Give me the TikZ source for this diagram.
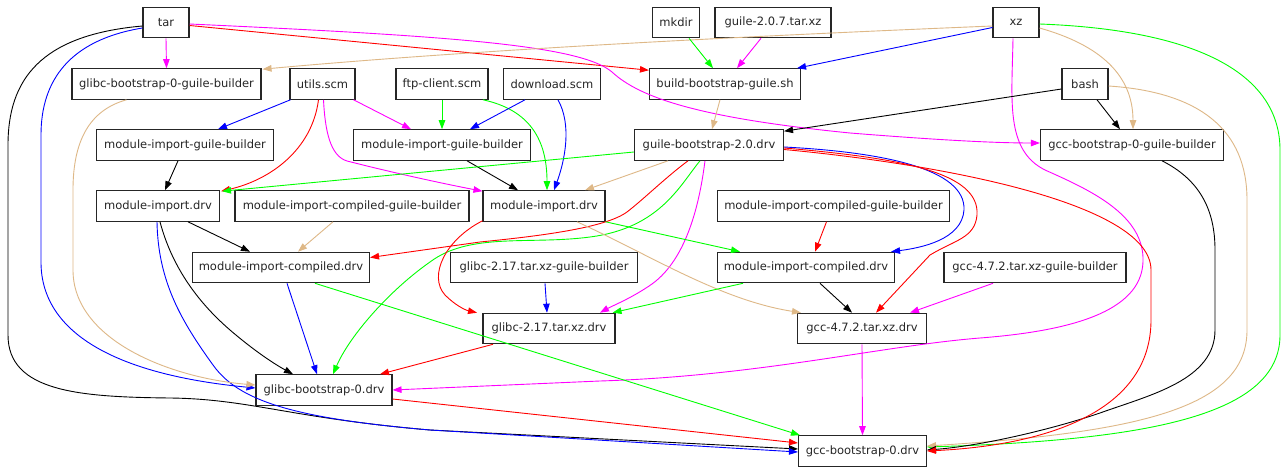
\documentclass[tikz,border=0pt]{standalone}
\usepackage{fontspec}
\setmainfont{DejaVu Sans}
\usetikzlibrary{arrows.meta,calc}
\definecolor{cgreen}{RGB}{0,255,0}
\definecolor{cmag}{RGB}{255,0,255}
\definecolor{cblue}{RGB}{0,0,255}
\definecolor{cred}{RGB}{255,0,0}
\definecolor{ctan}{RGB}{222,184,135}
\begin{document}
\begin{tikzpicture}[x=1pt,y=-1pt,
  box/.style={draw=black!85, line width=1.1pt, minimum height=30.5pt, inner sep=0pt,
              font=\fontsize{11.5}{13}\selectfont, fill=white, text=black!85},
  conn/.style={line width=0.9pt, -{Triangle[length=9pt,width=6.5pt]}},
]
\fill[white] (0,0) rectangle (1285,468);
\useasboundingbox (0,0) rectangle (1285,468);

% row 1
\node[box,minimum width=46pt]  (tar)      at (166,22.5)  {tar};
\node[box,minimum width=46.6pt](mkdir)    at (676,22.5)  {mkdir};
\node[box,minimum width=116pt] (guiletar) at (773,22.5)  {guile-2.0.7.tar.xz};
\node[box,minimum width=46pt]  (xz)       at (1016,22.5) {xz};
% row 2
\node[box,minimum width=189pt] (gbgb)     at (166.5,84)  {glibc-bootstrap-0-guile-builder};
\node[box,minimum width=65pt]  (utils)    at (322.5,84)  {utils.scm};
\node[box,minimum width=92pt]  (ftp)      at (442,84)    {ftp-client.scm};
\node[box,minimum width=97pt]  (download) at (552,84)    {download.scm};
\node[box,minimum width=151pt] (bbgs)     at (725,84)    {build-bootstrap-guile.sh};
\node[box,minimum width=46pt]  (bash)     at (1085,84)   {bash};
% row 3
\node[box,minimum width=177pt] (migb1)    at (185,145)   {module-import-guile-builder};
\node[box,minimum width=177pt] (migb2)    at (442,145)   {module-import-guile-builder};
\node[box,minimum width=149pt] (gb20)     at (709,145)   {guile-bootstrap-2.0.drv};
\node[box,minimum width=183pt] (gccbgb)   at (1132,145)  {gcc-bootstrap-0-guile-builder};
% row 4
\node[box,minimum width=123pt] (mid1)     at (158,206)   {module-import.drv};
\node[box,minimum width=234pt] (micgb1)   at (352,206)   {module-import-compiled-guile-builder};
\node[box,minimum width=122pt] (mid2)     at (544,206)   {module-import.drv};
\node[box,minimum width=232pt] (micgb2)   at (833.5,206) {module-import-compiled-guile-builder};
% row 5
\node[box,minimum width=177pt] (micd1)    at (281,267.5) {module-import-compiled.drv};
\node[box,minimum width=187pt] (glibctgb) at (544,267.5) {glibc-2.17.tar.xz-guile-builder};
\node[box,minimum width=177pt] (micd2)    at (806,267.5) {module-import-compiled.drv};
\node[box,minimum width=182pt] (gcctgb)   at (1035,267.5){gcc-4.7.2.tar.xz-guile-builder};
% row 6
\node[box,minimum width=132pt] (glibctd)  at (549,328.5) {glibc-2.17.tar.xz.drv};
\node[box,minimum width=129pt] (gcctd)    at (862,328.5) {gcc-4.7.2.tar.xz.drv};
% row 7/8
\node[box,minimum width=136pt] (gb0)      at (324,390)   {glibc-bootstrap-0.drv};
\node[box,minimum width=128pt] (gcc0)     at (862.5,451) {gcc-bootstrap-0.drv};

% ---- edges from tar
\draw[conn,cmag] (tar.south) -- (gbgb.north);
\draw[conn,cred] ([yshift=-3pt]tar.east) -- ([yshift=-2pt]bbgs.north west);
\draw[conn,cmag] ([yshift=-1.5pt]tar.east) .. controls (450,36) and (580,45) .. (612,72)
   .. controls (640,98) and (700,118) .. (850,133) .. controls (950,141) and (1000,143) .. ([yshift=2pt]gccbgb.west);
\draw[conn,cblue] ([yshift=-5.5pt]tar.west) .. controls (70,40) and (41,80) .. (41,135) -- (41,262)
   .. controls (41,335) and (120,375) .. ([yshift=2pt]gb0.west);
\draw[conn,black] ([yshift=-3.5pt]tar.west) .. controls (40,35) and (8,80) .. (8,145) -- (8,335)
   .. controls (8,392) and (80,397) .. (170,398) .. controls (250,399) and (290,418) .. (430,430)
   -- ([yshift=2pt]gcc0.west);

% ---- edges from xz
\draw[conn,cblue] ([yshift=-5pt]xz.west) -- ([xshift=-4pt]bbgs.north east);
\draw[conn,ctan] ([yshift=-3.5pt]xz.west) .. controls (700,38) and (450,52) .. ([xshift=1pt,yshift=-1pt]gbgb.north east);
\draw[conn,ctan] ([yshift=-5.5pt]xz.east) .. controls (1100,45) and (1133,75) .. ([xshift=1pt]gccbgb.north);
\draw[conn,cgreen] ([yshift=-1.5pt]xz.east) .. controls (1200,30) and (1280,75) .. (1280,150) -- (1280,335)
   .. controls (1280,415) and (1150,440) .. ([yshift=4pt]gcc0.east);
\draw[conn,cmag] ([xshift=-3pt]xz.south) .. controls (1012,100) and (1005,150) .. (1045,170)
   .. controls (1090,190) and (1145,215) .. (1143,262) .. controls (1141,312) and (1070,331) .. (980,338)
   .. controls (880,346) and (760,376) .. (600,381) -- (gb0.east);

% ---- top middle
\draw[conn,cgreen] ([xshift=13pt]mkdir.south) -- ([xshift=-12pt]bbgs.north);
\draw[conn,cmag] ([xshift=-12pt]guiletar.south) -- ([xshift=12pt]bbgs.north);
\draw[conn,ctan] ([xshift=-5pt]bbgs.south) -- ([xshift=3pt]gb20.north);
\draw[conn,black] ([yshift=-5pt]bash.west) -- ([yshift=-2pt]gb20.north east);
\draw[conn,black] ([xshift=12pt]bash.south) -- ([xshift=-12pt]gccbgb.north);
\draw[conn,ctan] ([yshift=-2pt]bash.east) .. controls (1200,92) and (1247,130) .. (1247,200) -- (1247,330)
   .. controls (1247,405) and (1150,432) .. ([yshift=5pt]gcc0.east);
\draw[conn,black] ([xshift=30pt]gccbgb.south) .. controls (1200,180) and (1215,210) .. (1215,250) -- (1215,330)
   .. controls (1215,380) and (1150,395) .. (1100,413) .. controls (1050,430) and (980,446) .. ([yshift=1pt]gcc0.east);

% ---- utils / ftp / download
\draw[conn,cblue] ([xshift=1pt]utils.south west) -- ([xshift=33pt]migb1.north);
\draw[conn,cred] ([xshift=-4pt]utils.south) .. controls (312,150) and (270,180) .. ([xshift=1pt,yshift=-1pt]mid1.north east);
\draw[conn,cmag] ([xshift=-2pt]utils.south east) -- ([xshift=-31pt]migb2.north);
\draw[conn,cmag] ([xshift=1pt]utils.south) .. controls (325,130) and (330,156) .. (347,161)
   .. controls (390,172) and (440,183) .. ([yshift=-1pt]mid2.north west);
\draw[conn,cgreen] (ftp.south) -- (migb2.north);
\draw[conn,cgreen] ([xshift=41pt]ftp.south) .. controls (530,110) and (547,140) .. ([xshift=3pt]mid2.north);
\draw[conn,cblue] ([xshift=-27pt]download.south) -- ([xshift=28pt]migb2.north);
\draw[conn,cblue] ([xshift=6pt]download.south) .. controls (572,125) and (565,160) .. ([xshift=10pt]mid2.north);
\draw[conn,black] ([xshift=-7pt]migb1.south) -- ([xshift=7pt]mid1.north);
\draw[conn,black] ([xshift=25pt]migb2.south) -- ([xshift=-26pt]mid2.north);

% ---- from guile-bootstrap-2.0.drv
\draw[conn,cgreen] ([yshift=-7pt]gb20.west) -- ([xshift=2pt,yshift=-1pt]mid1.north east);
\draw[conn,ctan] ([xshift=-41pt]gb20.south) -- ([xshift=41pt]mid2.north);
\draw[conn,cred] ([xshift=-21pt]gb20.south) .. controls (665,178) and (645,198) .. (627,212)
   .. controls (605,228) and (540,236) .. (480,242) -- ([yshift=10pt]micd1.east);
\draw[conn,cgreen] ([xshift=-9pt]gb20.south) .. controls (680,185) and (660,228) .. (590,237)
   .. controls (530,245) and (470,232) .. (430,262) .. controls (390,290) and (350,335) .. ([xshift=9pt]gb0.north);
\draw[conn,cmag] ([xshift=-4pt]gb20.south) .. controls (700,200) and (688,258) .. (652,284)
   .. controls (632,298) and (612,306) .. ([xshift=51pt]glibctd.north);
\draw[conn,cblue] ([yshift=-2pt]gb20.east) .. controls (880,152) and (966,168) .. (964,210)
   .. controls (962,240) and (920,248) .. ([xshift=-4pt]micd2.north east);
\draw[conn,cred] ([yshift=-3pt]gb20.east) .. controls (900,158) and (980,172) .. (977,215)
   .. controls (975,238) and (955,240) .. (930,255) -- ([xshift=14pt]gcctd.north);
\draw[conn,cred] ([yshift=-4.5pt]gb20.east) .. controls (950,165) and (1151,205) .. (1151,270) -- (1151,320)
   .. controls (1151,410) and (1050,445) .. (gcc0.east);

% ---- middle rows
\draw[conn,cred] ([yshift=1pt]mid2.south west) .. controls (445,240) and (428,276) .. (445,295)
   .. controls (455,305) and (465,310) .. ([xshift=-72pt]glibctd.north);
\draw[conn,cgreen] (mid2.south east) -- ([xshift=-66pt]micd2.north);
\draw[conn,ctan] ([xshift=33pt]mid2.south) .. controls (650,255) and (720,300) .. ([xshift=-61pt]gcctd.north);
\draw[conn,ctan] ([xshift=-19pt]micgb1.south) -- ([xshift=17pt]micd1.north);
\draw[conn,black] ([xshift=30pt]mid1.south) -- ([xshift=-31pt]micd1.north);
\draw[conn,black] ([xshift=2pt]mid1.south) .. controls (168,252) and (186,292) .. (230,330)
   .. controls (258,354) and (278,366) .. ([xshift=-31pt]gb0.north);
\draw[conn,cblue] ([xshift=-1pt]mid1.south) .. controls (158,282) and (182,322) .. (213,365)
   .. controls (238,400) and (290,418) .. (430,430) -- ([yshift=-1pt]gcc0.west);
\draw[conn,cred] ([xshift=-7pt]micgb2.south) -- ([xshift=9pt]micd2.north);
\draw[conn,cblue] ([xshift=6pt]micd1.south) -- ([xshift=-7pt]gb0.north);
\draw[conn,cgreen] ([xshift=34pt]micd1.south) -- ([xshift=2pt]gcc0.north west);
\draw[conn,cblue] ([xshift=1pt]glibctgb.south) -- ([xshift=-2pt]glibctd.north);
\draw[conn,cgreen] ([xshift=-63pt]micd2.south) -- ([xshift=-3pt]glibctd.north east);
\draw[conn,black] ([xshift=14pt]micd2.south) -- ([xshift=-10pt]gcctd.north);
\draw[conn,cmag] ([xshift=-42pt]gcctgb.south) -- ([xshift=48pt]gcctd.north);

% ---- bottom
\draw[conn,cred] ([xshift=-56pt]glibctd.south) -- ([xshift=56pt]gb0.north);
\draw[conn,cred] ([yshift=-9pt]gb0.east) -- ([yshift=8pt]gcc0.west);
\draw[conn,cmag] (gcctd.south) -- (gcc0.north);
\draw[conn,ctan] ([xshift=-40pt]gbgb.south) .. controls (90,110) and (73,140) .. (73,190) -- (73,270)
   .. controls (73,340) and (170,378) .. ([yshift=5pt]gb0.west);
\end{tikzpicture}
\end{document}
